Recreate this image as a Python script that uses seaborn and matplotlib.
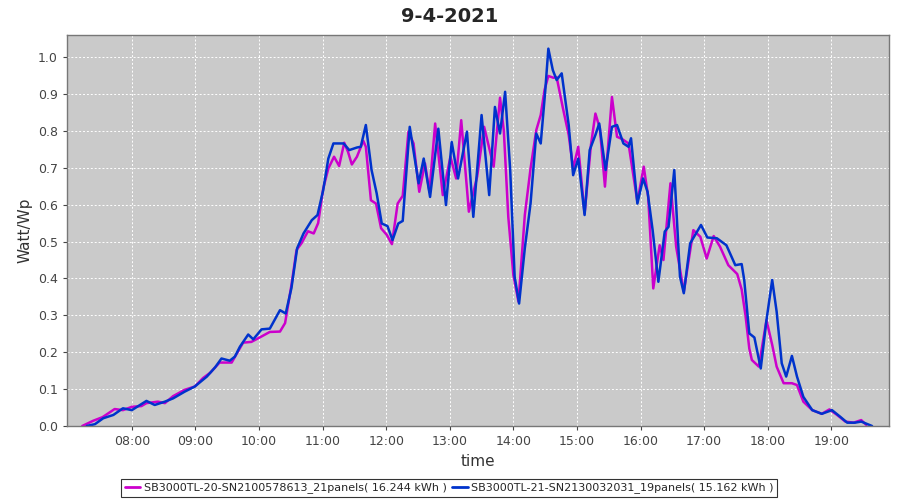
import pandas as pd
import matplotlib
matplotlib.use("Agg")
import matplotlib.pyplot as plt
import matplotlib.ticker as mticker
import seaborn as sns

# time in decimal hours, values in Watt/Wp
name_a = "SB3000TL-20-SN2100578613_21panels( 16.244 kWh )"
name_b = "SB3000TL-21-SN2130032031_19panels( 15.162 kWh )"

times_a = [7.22, 7.39, 7.54, 7.73, 7.86, 8.00, 8.15, 8.23, 8.41, 8.52, 8.65, 8.83, 8.99,
           9.12, 9.23, 9.38, 9.57, 9.75, 9.88, 10.00, 10.17, 10.33, 10.41, 10.51, 10.59,
           10.67, 10.77, 10.86, 10.93, 11.01, 11.09, 11.18, 11.26, 11.34, 11.40, 11.46,
           11.54, 11.64, 11.68, 11.76, 11.84, 11.92, 12.01, 12.09, 12.18, 12.26, 12.35,
           12.43, 12.52, 12.61, 12.68, 12.77, 12.89, 13.01, 13.10, 13.18, 13.30, 13.43,
           13.54, 13.69, 13.79, 13.85, 13.92, 14.00, 14.08, 14.18, 14.27, 14.36, 14.43,
           14.49, 14.55, 14.63, 14.68, 14.78, 14.87, 14.94, 15.02, 15.12, 15.22, 15.29,
           15.36, 15.44, 15.55, 15.63, 15.71, 15.81, 15.95, 16.05, 16.12, 16.20, 16.30,
           16.36, 16.47, 16.56, 16.68, 16.83, 16.94, 17.04, 17.15, 17.25, 17.38, 17.52,
           17.59, 17.65, 17.71, 17.75, 17.86, 17.98, 18.07, 18.14, 18.25, 18.38, 18.46,
           18.56, 18.70, 18.85, 18.97, 19.09, 19.22, 19.35, 19.47, 19.55]
watt_a = [0.0, 0.014, 0.024, 0.046, 0.043, 0.052, 0.054, 0.062, 0.066, 0.062, 0.081, 0.098, 0.107,
          0.130, 0.144, 0.172, 0.172, 0.226, 0.228, 0.239, 0.255, 0.256, 0.279, 0.382, 0.477,
          0.496, 0.528, 0.522, 0.550, 0.644, 0.698, 0.730, 0.705, 0.768, 0.743, 0.709,
          0.730, 0.773, 0.757, 0.612, 0.603, 0.536, 0.518, 0.493, 0.603, 0.624, 0.798,
          0.766, 0.635, 0.712, 0.635, 0.820, 0.626, 0.730, 0.671, 0.829, 0.581, 0.676,
          0.811, 0.703, 0.890, 0.800, 0.567, 0.409, 0.337, 0.572, 0.698, 0.802, 0.843,
          0.911, 0.949, 0.944, 0.946, 0.861, 0.789, 0.698, 0.757, 0.576, 0.762, 0.847,
          0.807, 0.649, 0.892, 0.784, 0.778, 0.766, 0.608, 0.703, 0.621, 0.373, 0.490,
          0.450, 0.658, 0.486, 0.364, 0.531, 0.513, 0.454, 0.515, 0.486, 0.436, 0.412,
          0.370, 0.300, 0.210, 0.179, 0.161, 0.287, 0.220, 0.161, 0.116, 0.116, 0.111,
          0.066, 0.043, 0.033, 0.045, 0.030, 0.012, 0.009, 0.016, 0.003]

times_b = [7.29, 7.42, 7.55, 7.71, 7.86, 8.00, 8.23, 8.36, 8.52, 8.65, 8.83, 8.99, 9.18,
           9.31, 9.41, 9.54, 9.62, 9.70, 9.83, 9.91, 10.04, 10.17, 10.33, 10.42, 10.51,
           10.60, 10.70, 10.83, 10.92, 11.01, 11.09, 11.17, 11.33, 11.42, 11.54, 11.60,
           11.68, 11.77, 11.85, 11.93, 12.02, 12.10, 12.19, 12.26, 12.37, 12.51, 12.59,
           12.69, 12.82, 12.94, 13.03, 13.13, 13.27, 13.37, 13.50, 13.62, 13.71, 13.79,
           13.87, 13.95, 14.02, 14.09, 14.18, 14.27, 14.36, 14.43, 14.50, 14.55, 14.62,
           14.68, 14.76, 14.87, 14.94, 15.02, 15.12, 15.20, 15.29, 15.35, 15.45, 15.55,
           15.63, 15.73, 15.81, 15.85, 15.95, 16.04, 16.11, 16.19, 16.28, 16.38, 16.44,
           16.53, 16.62, 16.68, 16.78, 16.95, 17.05, 17.20, 17.35, 17.49, 17.59, 17.63,
           17.71, 17.79, 17.89, 17.98, 18.07, 18.14, 18.22, 18.29, 18.38, 18.46, 18.56,
           18.70, 18.85, 19.01, 19.14, 19.25, 19.37, 19.47, 19.64]
watt_b = [0.0, 0.005, 0.021, 0.030, 0.048, 0.043, 0.068, 0.057, 0.066, 0.075, 0.093, 0.107, 0.134,
          0.159, 0.183, 0.177, 0.188, 0.215, 0.248, 0.235, 0.262, 0.264, 0.314, 0.305, 0.374,
          0.482, 0.522, 0.558, 0.572, 0.640, 0.725, 0.766, 0.766, 0.748, 0.755, 0.757,
          0.816, 0.694, 0.631, 0.549, 0.542, 0.504, 0.549, 0.556, 0.811, 0.658, 0.725,
          0.621, 0.806, 0.599, 0.770, 0.671, 0.798, 0.567, 0.843, 0.626, 0.865, 0.793,
          0.906, 0.694, 0.405, 0.332, 0.482, 0.603, 0.793, 0.766, 0.906, 1.023, 0.965,
          0.938, 0.956, 0.816, 0.680, 0.725, 0.572, 0.748, 0.789, 0.820, 0.694, 0.811,
          0.816, 0.766, 0.757, 0.780, 0.603, 0.671, 0.635, 0.531, 0.391, 0.527, 0.540,
          0.694, 0.405, 0.360, 0.495, 0.545, 0.511, 0.509, 0.490, 0.436, 0.439, 0.396,
          0.251, 0.240, 0.156, 0.287, 0.396, 0.310, 0.170, 0.134, 0.190, 0.134, 0.079,
          0.043, 0.033, 0.043, 0.025, 0.009, 0.009, 0.012, 0.0]

hour_ticks = list(range(8, 20))

df = pd.concat([
    pd.DataFrame({"time": times_a, "watt": watt_a, "series": name_a}),
    pd.DataFrame({"time": times_b, "watt": watt_b, "series": name_b}),
])

sns.set_style("white")
plt.rcParams["font.family"] = ["DejaVu Sans"]

fig = plt.figure(figsize=(9, 5), dpi=100)
ax = fig.add_axes([0.0744, 0.148, 0.9136, 0.782])
ax.set_facecolor("#CACACA")

sns.lineplot(data=df, x="time", y="watt", hue="series", sort=False,
             palette={name_a: "#CC00CC", name_b: "#0033CC"},
             linewidth=1.8, ax=ax, legend=False,
             solid_joinstyle="round", solid_capstyle="round")

ax.set_xlim(6.98, 19.91)
ax.set_ylim(0, 1.06)
ax.set_xticks(hour_ticks)
ax.xaxis.set_major_formatter(mticker.FuncFormatter(lambda v, p: f"{int(v):02d}:00"))
ax.set_yticks([i / 10 for i in range(11)])
ax.yaxis.set_major_formatter(mticker.FormatStrFormatter("%.1f"))
ax.grid(True, color="white", linestyle=(0, (2, 2)), linewidth=0.7)
ax.tick_params(axis="both", labelsize=9, colors="#444444", length=3, direction="out",
               bottom=True, left=True)
for sp in ax.spines.values():
    sp.set_color("#777777")
    sp.set_linewidth(1)

ax.set_xlabel("time", fontsize=11, color="#333333")
ax.set_ylabel("Watt/Wp", fontsize=11, color="#333333")
fig.text(0.5, 0.968, "9-4-2021", ha="center", va="center", fontsize=14, fontweight="bold")

handles = [plt.Line2D([], [], color="#CC00CC", linewidth=2),
           plt.Line2D([], [], color="#0033CC", linewidth=2)]
leg = fig.legend(handles, [name_a, name_b], loc="lower center", bbox_to_anchor=(0.499, 0.0),
                 ncol=2, fontsize=8, frameon=True, fancybox=False, handlelength=1.4,
                 handletextpad=0.3, columnspacing=0.5, borderpad=0.35, borderaxespad=0.25)
leg.get_frame().set_edgecolor("black")
leg.get_frame().set_linewidth(0.8)

fig.savefig("out.png", dpi=100)
